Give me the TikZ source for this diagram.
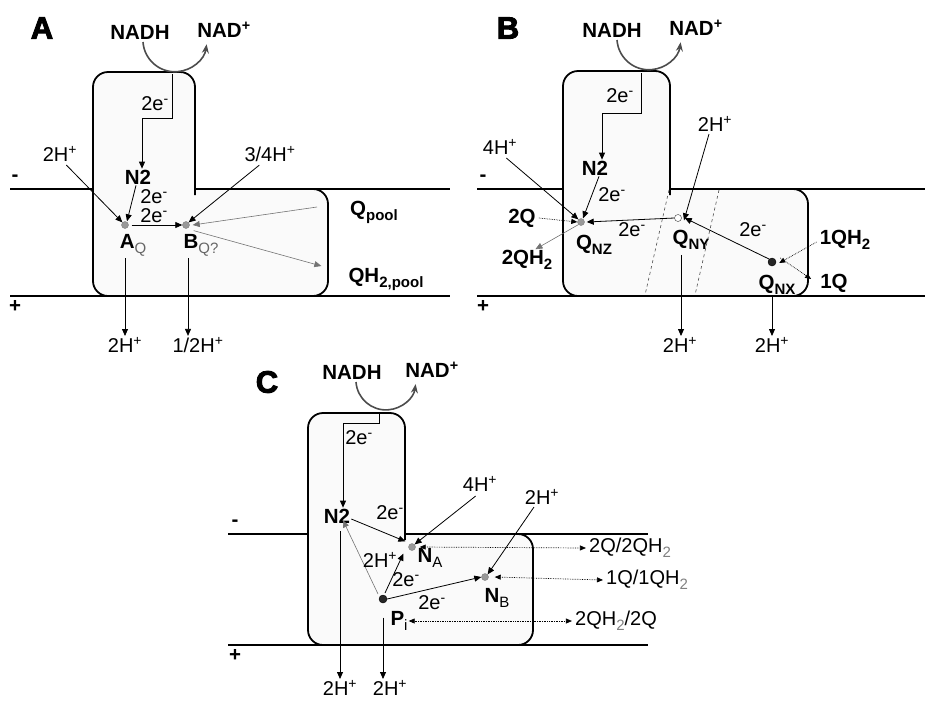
\documentclass[tikz,border=0pt]{standalone}
\usepackage{fontspec}
\setmainfont{Liberation Sans}
\newfontfamily\panelfont[FakeBold=3]{Liberation Sans Bold}
\usepackage{tikz}
\usetikzlibrary{arrows.meta,calc}
\newcommand{\elec}{2e\textsuperscript{-}}
\newcommand{\hplus}[1]{#1H\textsuperscript{+}}
\newcommand{\lsub}[1]{\raisebox{-0.45ex}{\fontsize{15}{15}\selectfont #1}}

\begin{document}
\begin{tikzpicture}[x=1pt, y=-1pt,
  txt/.style={font=\fontsize{20}{22}\selectfont, inner sep=1pt},
  bl/.style={font=\fontsize{20.5}{22}\selectfont\bfseries, inner sep=1pt},
  panel/.style={font=\fontsize{31}{31}\panelfont},
  memb/.style={line width=1.8pt},
  cplx/.style={line width=1.8pt, fill=black!2},
  arr/.style={-{Triangle[length=7pt,width=6pt]}, line width=0.8pt},
  garr/.style={-{Triangle[length=7pt,width=6pt]}, line width=0.6pt, black!55},
  darr/.style={{Triangle[length=6pt,width=5pt]}-{Triangle[length=6pt,width=5pt]}, densely dotted, line width=0.7pt},
  sarr/.style={-{Triangle[length=6pt,width=5pt]}, densely dotted, line width=0.7pt},
  cyc/.style={-{Stealth[length=9pt,width=7pt]}, line width=1.6pt, black!70},
  sep/.style={dashed, line width=0.6pt, black!70},
  dotg/.style={circle, draw=black!50, fill=black!40, inner sep=0pt, minimum size=7pt},
  dotw/.style={circle, draw=black!80, fill=white, inner sep=0pt, minimum size=7pt},
  dotk/.style={circle, draw=black, fill=black!85, inner sep=0pt, minimum size=8pt}
]
\useasboundingbox (0,0) rectangle (925,702);

% ---------------- panel A ----------------
\node[panel] (labA) at (42,28) {A};
\coordinate (mA1) at (10,189);  \coordinate (mA2) at (450,189);
\coordinate (mA3) at (10,296);  \coordinate (mA4) at (450,296);
\draw[cplx] (260,189) [rounded corners=15pt] -- (328,189) -- (328,296) -- (93,296)
  -- (93,72) -- (195,72) -- (195,180) [sharp corners] -- (195,189) -- cycle;
\draw[memb] (mA1) -- (93,189);
\draw[memb] (195,189) -- (mA2);
\draw[memb] (mA3) -- (mA4);
\node[bl] (minA) at (15,178) {-};
\node[bl] (plA) at (15,306) {+};
\node[bl] (nadhA) at (140,32) {NADH};
\node[bl] (nadA) at (224,30) {NAD\textsuperscript{+}};
\coordinate (arcA) at (143,42);
\draw[cyc] (arcA) arc[start angle=176, end angle=8, radius=32];
\node[bl] (n2A) at (138,177) {N2};
\coordinate (eA0) at (172,74);
\coordinate (eA1) at (142,118);
\draw[arr] (eA0) |- (eA1) -- (eA1 |- n2A.north);
\node[txt] (eAl) at (155,104) {\elec};
\node[dotg] (aq) at (125,225) {};
\node[dotg] (bq) at (186,225) {};
\node[bl] (aqlab) at (133,245) {A\lsub{\mdseries\color{black!60}Q}};
\node[bl] (bqlab) at (201,245) {B\lsub{\mdseries\color{black!60}Q?}};
\node[txt] (hA1) at (60,154) {\hplus{2}};
\draw[arr] (hA1.south east) ++(-12,2) -- (aq.north west);
\draw[arr] ([xshift=-2]n2A.south) -- ([xshift=2]aq.north);
\node[txt] (eA2) at (154,197) {\elec};
\node[txt] (eA3) at (154,216) {\elec};
\draw[arr] (aq.east) ++(3,0) -- (bq.west);
\node[txt] (hA2) at (270,154) {3/4H\textsuperscript{+}};
\draw[arr] (hA2.south west) ++(16,2) -- (bq.north east);
\node[bl] (qpool) at (374,212) {Q\lsub{pool}};
\node[bl] (qhpool) at (386,279) {QH\lsub{2,pool}};
\draw[garr] (qpool.west) ++(-32,-5) -- ([xshift=3]bq.east);
\draw[garr] ([shift={(5,3)}]bq.south east) -- ($(qhpool.west)+(-26,-13)$);
\node[txt] (hA3) at (125,345) {\hplus{2}};
\node[txt] (hA4) at (198,345) {1/2H\textsuperscript{+}};
\draw[arr] (aq |- aqlab.south) ++(0,1) -- (aq |- hA3.north);
\draw[arr] (bq |- bqlab.south) ++(2,1) -- ($(bq |- hA4.north)+(2,0)$);

% ---------------- panel B ----------------
\node[panel] (labB) at (508,28) {B};
\coordinate (mB1) at (477,189);  \coordinate (mB2) at (925,189);
\coordinate (mB3) at (477,296);  \coordinate (mB4) at (925,296);
\draw[cplx] (740,189) [rounded corners=15pt] -- (808,189) -- (808,296) -- (563,296)
  -- (563,71) -- (670,71) -- (670,180) [sharp corners] -- (670,189) -- cycle;
\draw[memb] (mB1) -- (563,189);
\draw[memb] (670,189) -- (mB2);
\draw[memb] (mB3) -- (mB4);
\node[bl] (minB) at (483,178) {-};
\node[bl] (plB) at (483,306) {+};
\draw[sep] (669,190) -- (645,295);
\draw[sep] (719,190) -- (695,295);
\node[bl] (nadhB) at (612,30) {NADH};
\node[bl] (nadB) at (696,28) {NAD\textsuperscript{+}};
\coordinate (arcB) at (617,40);
\draw[cyc] (arcB) arc[start angle=176, end angle=8, radius=32];
\node[bl] (n2B) at (595,168) {N2};
\coordinate (eB0) at (641,73);
\coordinate (eB1) at (602,113);
\draw[arr] (eB0) |- (eB1) -- (eB1 |- n2B.north);
\node[txt] (eBl) at (620,96) {\elec};
\node[dotg] (qnz) at (581,222) {};
\node[dotw] (qny) at (678,218) {};
\node[dotk] (qnx) at (772,262) {};
\node[bl] (qnzlab) at (594,245) {Q\lsub{NZ}};
\node[bl] (qnylab) at (691,240) {Q\lsub{NY}};
\node[bl] (qnxlab) at (777,285) {Q\lsub{NX}};
\node[txt] (hB1) at (500,147) {\hplus{4}};
\draw[arr] (hB1.south east) ++(-12,2) -- (qnz.north west);
\draw[arr] ([xshift=4]n2B.south) -- ([xshift=2]qnz.north);
\node[txt] (eB2) at (612,195) {\elec};
\node[bl] (q2B) at (522,218) {2Q};
\draw[sarr] (q2B.east) ++(2,0) -- (qnz.west);
\node[bl] (qh2B) at (527,260) {2QH\lsub{2}};
\draw[garr] (qnz.south west) -- ($(qh2B.north east)+(-18,0)$);
\draw[arr] (qny.west) -- ([xshift=2]qnz.east);
\node[txt] (eB3) at (632,230) {\elec};
\node[txt] (hB2) at (715,124) {\hplus{2}};
\draw[arr] (hB2.south) ++(-6,1) -- ([xshift=6,yshift=-6]qny.north);
\draw[arr] (qnx.north west) -- ([xshift=3]qny.east);
\node[txt] (eB4) at (753,230) {\elec};
\node[bl] (qh1B) at (845,240) {1QH\lsub{2}};
\draw[sarr] (qh1B.west) ++(-2,2) -- ([xshift=3,yshift=-1]qnx.east);
\node[bl] (q1B) at (834,283) {1Q};
\draw[sarr] ([xshift=4,yshift=4]qnx.east) -- ($(q1B.west)+(-8,-4)$);
\node[txt] (hB3) at (680,345) {\hplus{2}};
\node[txt] (hB4) at (772,345) {\hplus{2}};
\draw[arr] (qnylab.south) ++(-10,4) -- ($(qnylab.south |- hB3.north)+(-10,0)$);
\draw[arr] (qnx |- qnxlab.south) -- (qnx |- hB4.north);

% ---------------- panel C ----------------
\node[panel] (labC) at (267,382) {C};
\coordinate (mC1) at (228,534);  \coordinate (mC2) at (648,534);
\coordinate (mC3) at (228,645);  \coordinate (mC4) at (648,645);
\draw[cplx] (470,534) [rounded corners=15pt] -- (533,534) -- (533,645) -- (308,645)
  -- (308,413) -- (405,413) -- (405,525) [sharp corners] -- (405,534) -- cycle;
\draw[memb] (mC1) -- (308,534);
\draw[memb] (405,534) -- (mC2);
\draw[memb] (mC3) -- (mC4);
\node[bl] (minC) at (235,523) {-};
\node[bl] (plC) at (235,655) {+};
\node[bl] (nadhC) at (352,372) {NADH};
\node[bl] (nadC) at (432,370) {NAD\textsuperscript{+}};
\coordinate (arcC) at (356,382);
\draw[cyc] (arcC) arc[start angle=176, end angle=8, radius=30];
\node[bl] (n2C) at (337,516) {N2};
\coordinate (eC0) at (379,414);
\coordinate (eC1) at (343,423);
\draw[arr] (eC0) |- (eC1) -- (eC1 |- n2C.north);
\node[txt] (eCl) at (359,438) {\elec};
\node[dotg] (na) at (412,547) {};
\node[dotg] (nb) at (485,577) {};
\node[dotk] (pi) at (383,599) {};
\node[bl] (nalab) at (430,558) {N\lsub{\mdseries A}};
\node[bl] (nblab) at (497,598) {N\lsub{\mdseries B}};
\node[bl] (pilab) at (399,621) {P\lsub{\mdseries i}};
\draw[arr] ([yshift=-3]n2C.east) -- ([shift={(-4,-3)}]na.north west);
\node[txt] (eC2) at (390,513) {\elec};
\node[txt] (hC1) at (480,484) {\hplus{4}};
\draw[arr] ($(hC1.south west)+(14,3)$) -- (na.north east);
\node[txt] (hC2) at (542,497) {\hplus{2}};
\draw[arr] (hC2.south) ++(-8,1) -- (nb.north east);
\draw[garr] (pi.north west) ++(-2,-2) -- ([xshift=6,yshift=4]n2C.south);
\draw[arr] (pi.north east) ++(-1,-3) -- ([shift={(-6,4)}]na.south west);
\node[txt] (hC3) at (380,560) {\hplus{2}};
\node[txt] (eC3) at (406,580) {\elec};
\draw[arr] (pi.east) -- (nb.west);
\node[txt] (eC4) at (432,603) {\elec};
\node[txt] (qC1) at (630,548) {2Q/2QH\lsub{\color{black!50}2}};
\node[txt] (qC2) at (647,580) {1Q/1QH\lsub{\color{black!50}2}};
\node[txt] (qC3) at (616,621) {2QH\lsub{\color{black!50}2}/2Q};
\draw[darr] ([xshift=4]na.east) -- ([xshift=-2]qC1.west);
\draw[darr] ([xshift=6]nb.east) -- ([xshift=-2]qC2.west);
\draw[darr] (pilab.east) -- ([xshift=-2]qC3.west);
\node[txt] (hC4) at (340,688) {\hplus{2}};
\node[txt] (hC5) at (390,688) {\hplus{2}};
\draw[arr] (340,531) -- (hC4.north -| 340,0);
\draw[arr] (pi |- pilab.south) ++(0,-14) -- (pi |- hC5.north);
\end{tikzpicture}
\end{document}
